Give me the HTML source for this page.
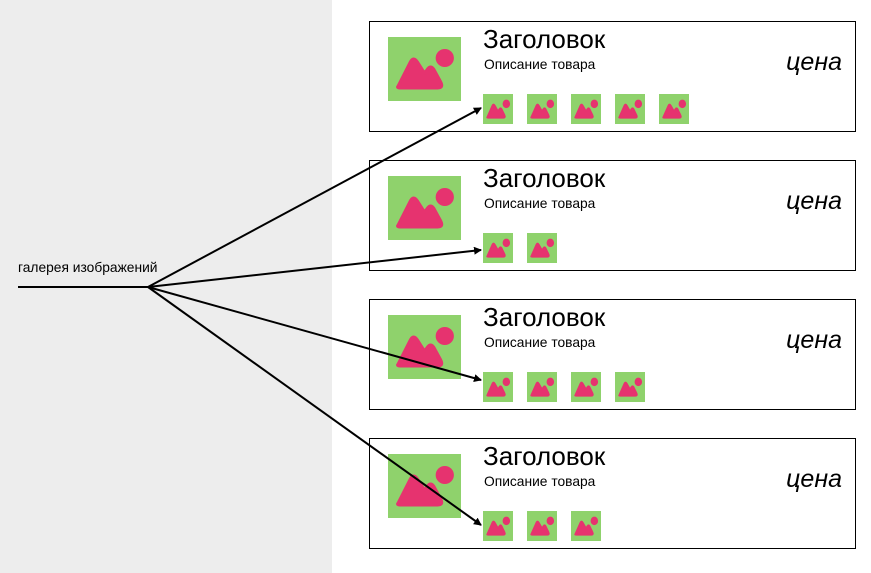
<!DOCTYPE html>
<html><head><meta charset="utf-8"><style>
body{margin:0;width:871px;height:573px;overflow:hidden;background:#fff;font-family:"Liberation Sans",sans-serif}
</style></head><body>
<svg width="871" height="573" xmlns="http://www.w3.org/2000/svg" style="position:absolute;left:0;top:0">
<defs>
<symbol id="img" viewBox="0 0 72 64" preserveAspectRatio="none">
<rect width="72" height="64" fill="#8fd26c"/>
<circle cx="56" cy="21" r="9" fill="#e6336f"/>
<path d="M10 49 L22 25 Q25 19 29 25 L36 36 L39 32 Q42 28 45 32 L52 45 Q55 51 49 51 L13 51 Q8 51 10 49 Z" fill="#e6336f" stroke="#e6336f" stroke-width="3" stroke-linejoin="round"/>
</symbol>
<marker id="ar" markerWidth="8" markerHeight="8" refX="7" refY="4" orient="auto" markerUnits="userSpaceOnUse"><path d="M0 0 L8 4 L0 8 Z" fill="#000"/></marker>
</defs>
<rect x="0" y="0" width="332" height="573" fill="#ededed"/>
<g font-family="Liberation Sans, sans-serif">
<g transform="translate(0,0)">
<rect x="369.5" y="21.5" width="486" height="110" fill="#fff" stroke="#000"/>
<use href="#img" x="388" y="37" width="73" height="64"/>
<text x="483" y="48" font-size="26">Заголовок</text>
<text x="484" y="69" font-size="13.8">Описание товара</text>
<text x="842" y="70" font-size="25" font-style="italic" text-anchor="end">цена</text>
<use href="#img" x="483" y="94" width="30" height="30"/><use href="#img" x="527" y="94" width="30" height="30"/><use href="#img" x="571" y="94" width="30" height="30"/><use href="#img" x="615" y="94" width="30" height="30"/><use href="#img" x="659" y="94" width="30" height="30"/>
</g>
<g transform="translate(0,139)">
<rect x="369.5" y="21.5" width="486" height="110" fill="#fff" stroke="#000"/>
<use href="#img" x="388" y="37" width="73" height="64"/>
<text x="483" y="48" font-size="26">Заголовок</text>
<text x="484" y="69" font-size="13.8">Описание товара</text>
<text x="842" y="70" font-size="25" font-style="italic" text-anchor="end">цена</text>
<use href="#img" x="483" y="94" width="30" height="30"/><use href="#img" x="527" y="94" width="30" height="30"/>
</g>
<g transform="translate(0,278)">
<rect x="369.5" y="21.5" width="486" height="110" fill="#fff" stroke="#000"/>
<use href="#img" x="388" y="37" width="73" height="64"/>
<text x="483" y="48" font-size="26">Заголовок</text>
<text x="484" y="69" font-size="13.8">Описание товара</text>
<text x="842" y="70" font-size="25" font-style="italic" text-anchor="end">цена</text>
<use href="#img" x="483" y="94" width="30" height="30"/><use href="#img" x="527" y="94" width="30" height="30"/><use href="#img" x="571" y="94" width="30" height="30"/><use href="#img" x="615" y="94" width="30" height="30"/>
</g>
<g transform="translate(0,417)">
<rect x="369.5" y="21.5" width="486" height="110" fill="#fff" stroke="#000"/>
<use href="#img" x="388" y="37" width="73" height="64"/>
<text x="483" y="48" font-size="26">Заголовок</text>
<text x="484" y="69" font-size="13.8">Описание товара</text>
<text x="842" y="70" font-size="25" font-style="italic" text-anchor="end">цена</text>
<use href="#img" x="483" y="94" width="30" height="30"/><use href="#img" x="527" y="94" width="30" height="30"/><use href="#img" x="571" y="94" width="30" height="30"/>
</g>
<text x="18" y="272" font-size="13.8">галерея изображений</text>
</g>
<g stroke="#000" stroke-width="2" fill="none">
<line x1="18" y1="287" x2="148" y2="287"/>
<line x1="148" y1="287" x2="481" y2="108" marker-end="url(#ar)"/>
<line x1="148" y1="287" x2="481" y2="250" marker-end="url(#ar)"/>
<line x1="148" y1="287" x2="481" y2="380" marker-end="url(#ar)"/>
<line x1="148" y1="287" x2="481" y2="525" marker-end="url(#ar)"/>
</g>
</svg>
</body></html>
